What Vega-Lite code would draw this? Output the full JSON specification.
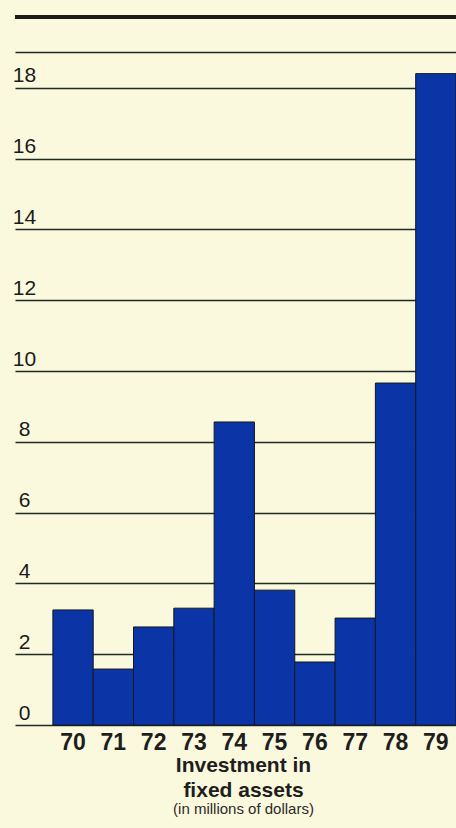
{
  "$schema": "https://vega.github.io/schema/vega-lite/v6.json",
  "width": 441,
  "height": 708,
  "autosize": {"type": "none"},
  "padding": {"left": 15, "top": 17, "right": 0, "bottom": 103},
  "background": "#fbf9dd",
  "config": {"view": {"stroke": null}, "font": "Liberation Sans"},
  "title": {
    "text": ["Investment in", "fixed assets"],
    "subtitle": "(in millions of dollars)",
    "orient": "bottom",
    "anchor": "middle",
    "frame": "group",
    "dx": 8,
    "offset": 1,
    "fontSize": 21,
    "fontWeight": "bold",
    "lineHeight": 25,
    "color": "#1e1e1e",
    "subtitleFontSize": 15,
    "subtitleColor": "#2a2a2a",
    "subtitlePadding": 1
  },
  "data": {
    "values": [
      {"year": "70", "value": 3.25},
      {"year": "71", "value": 1.58},
      {"year": "72", "value": 2.77},
      {"year": "73", "value": 3.3},
      {"year": "74", "value": 8.56},
      {"year": "75", "value": 3.81},
      {"year": "76", "value": 1.78},
      {"year": "77", "value": 3.02},
      {"year": "78", "value": 9.66},
      {"year": "79", "value": 18.4}
    ]
  },
  "layer": [
    {
      "mark": {"type": "bar", "color": "#0b34a6", "stroke": "#101820", "strokeWidth": 1},
      "encoding": {
        "x": {
          "field": "year",
          "type": "ordinal",
          "scale": {"paddingInner": 0, "paddingOuter": 0.47, "align": 1},
          "axis": {
            "title": null,
            "labelAngle": 0,
            "labelFontSize": 23,
            "labelFontWeight": "bold",
            "labelColor": "#1e1e1e",
            "labelPadding": 6,
            "domain": false,
            "ticks": false,
            "grid": false
          }
        },
        "y": {
          "field": "value",
          "type": "quantitative",
          "scale": {"domain": [0, 20], "nice": false},
          "axis": {
            "title": null,
            "values": [0, 2, 4, 6, 8, 10, 12, 14, 16, 18, 19],
            "labelExpr": "datum.value == 19 ? '' : datum.label",
            "grid": true,
            "gridColor": "#1f2a22",
            "gridWidth": 1.5,
            "domain": false,
            "ticks": false,
            "labelAlign": "center",
            "labelBaseline": "alphabetic",
            "labelPadding": -9,
            "labelOffset": -6,
            "labelFontSize": 21,
            "labelFontWeight": 500,
            "labelColor": "#1a1a1a"
          }
        }
      }
    },
    {
      "data": {"values": [{}]},
      "mark": {"type": "rule", "color": "#1b1b1b", "strokeWidth": 4},
      "encoding": {"y": {"datum": 20}}
    }
  ]
}
